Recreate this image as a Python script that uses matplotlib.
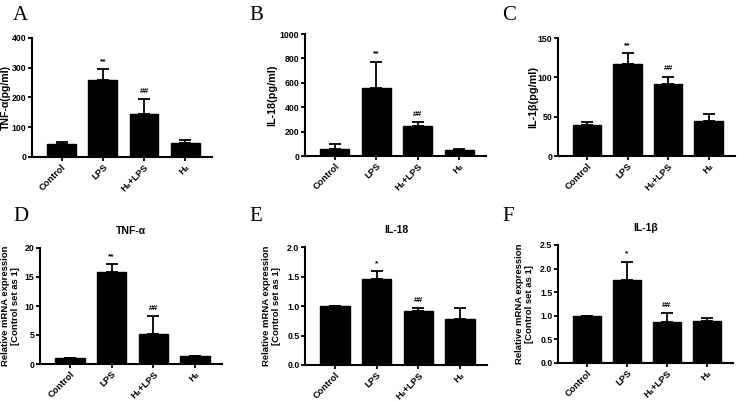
import matplotlib
matplotlib.use("Agg")
import matplotlib.pyplot as plt

plt.rcParams['font.family'] = ['Liberation Sans', 'DejaVu Sans']

groups = ["Control", "LPS", "H₂+LPS", "H₂"]

tnf_protein = [45, 259, 145, 47]
tnf_protein_err = [6, 36, 51, 9]
il18_protein = [60, 555, 247, 52]
il18_protein_err = [36, 217, 28, 8]
il1b_protein = [40, 117, 92, 44]
il1b_protein_err = [3.5, 14, 9, 9]

tnf_mrna = [1.0, 15.9, 5.2, 1.3]
tnf_mrna_err = [0.0, 1.3, 3.1, 0.07]
il18_mrna = [1.0, 1.45, 0.91, 0.785]
il18_mrna_err = [0.0, 0.14, 0.055, 0.185]
il1b_mrna = [1.0, 1.75, 0.87, 0.9]
il1b_mrna_err = [0.0, 0.4, 0.18, 0.06]

marks_top = ["", "**", "##", ""]
marks_e = ["", "*", "##", ""]

mrna_label = "Relative mRNA expression\n[Control set as 1]"

panels = [
    dict(letter="A", rect=(32, 212, 38, 157), vals=tnf_protein, err=tnf_protein_err,
         ylim=400, ticks=[0, 100, 200, 300, 400], ylabel="TNF-α(pg/ml)", ylsize=7.6, ylx=11,
         title=None, marks=marks_top, ticklabels=None, letter_xy=(13, 6)),
    dict(letter="B", rect=(305, 486, 34, 156), vals=il18_protein, err=il18_protein_err,
         ylim=1000, ticks=[0, 200, 400, 600, 800, 1000], ylabel="IL-18(pg/ml)", ylsize=7.8, ylx=277,
         title=None, marks=marks_top, ticklabels=None, letter_xy=(249, 6)),
    dict(letter="C", rect=(558, 735, 38, 156), vals=il1b_protein, err=il1b_protein_err,
         ylim=150, ticks=[0, 50, 100, 150], ylabel="IL-1β(pg/ml)", ylsize=7.8, ylx=538,
         title=None, marks=marks_top, ticklabels=None, letter_xy=(502, 6)),
    dict(letter="D", rect=(40, 222, 248, 364), vals=tnf_mrna, err=tnf_mrna_err,
         ylim=20, ticks=[0, 5, 10, 15, 20], ylabel=mrna_label, ylsize=6.8, ylx=20,
         title="TNF-α", marks=marks_top, ticklabels=None, letter_xy=(13, 207)),
    dict(letter="E", rect=(305, 487, 247, 365), vals=il18_mrna, err=il18_mrna_err,
         ylim=2.0, ticks=[0, 0.5, 1.0, 1.5, 2.0], ylabel=mrna_label, ylsize=6.8, ylx=281,
         title="IL-18", marks=marks_e, ticklabels=["0.0", "0.5", "1.0", "1.5", "2.0"], letter_xy=(249, 207)),
    dict(letter="F", rect=(558, 733, 245, 363), vals=il1b_mrna, err=il1b_mrna_err,
         ylim=2.5, ticks=[0, 0.5, 1.0, 1.5, 2.0, 2.5], ylabel=mrna_label, ylsize=6.8, ylx=534,
         title="IL-1β", marks=marks_e, ticklabels=["0.0", "0.5", "1.0", "1.5", "2.0", "2.5"], letter_xy=(502, 207)),
]

W, H = 738, 401
fig = plt.figure(figsize=(W / 100, H / 100), dpi=100)

for p in panels:
    L, R, T, B = p["rect"]
    ax = fig.add_axes([L / W, 1 - B / H, (R - L) / W, (B - T) / H])
    x = list(range(len(groups)))
    lower = [0] * len(groups)
    ax.bar(x, p["vals"], width=0.7, color="black", edgecolor="black", zorder=2)
    ax.errorbar(x, p["vals"], yerr=[lower, p["err"]], fmt="none", ecolor="black",
                elinewidth=1.3, capsize=4.5, capthick=1.3, zorder=1)
    ax.set_xlim(-0.72, 3.65)
    ax.set_ylim(0, p["ylim"])
    ax.set_yticks(p["ticks"])
    if p["ticklabels"]:
        ax.set_yticklabels(p["ticklabels"])
    ax.set_xticks(x)
    ax.set_xticklabels(groups, rotation=45, ha="right", rotation_mode="anchor")
    for s in ["top", "right"]:
        ax.spines[s].set_visible(False)
    for s in ["left", "bottom"]:
        ax.spines[s].set_linewidth(1.5)
    ax.tick_params(axis="both", width=1.3, length=3, pad=1.0)
    ax.tick_params(axis="y", labelsize=6.3)
    ax.tick_params(axis="x", labelsize=6.7)
    for lab in ax.get_xticklabels() + ax.get_yticklabels():
        lab.set_fontweight("bold")
    ax.set_ylabel(p["ylabel"], fontsize=p["ylsize"], fontweight="bold", linespacing=1.1)
    ax.yaxis.set_label_coords((p["ylx"] - L) / (R - L), 0.5)
    if p["title"]:
        ax.set_title(p["title"], fontsize=7.5, fontweight="bold", pad=10)
    for xi, v, e, m in zip(x, p["vals"], p["err"], p["marks"]):
        if m:
            ax.annotate(m, (xi, v + e), xytext=(0, 3), textcoords="offset points",
                        ha="center", va="bottom", fontsize=6, fontweight="bold")
    lx, ly = p["letter_xy"]
    fig.text(lx / W, 1 - ly / H, p["letter"], family="Liberation Serif", fontsize=15,
             ha="left", va="top")

fig.savefig("out.png", dpi=100)
